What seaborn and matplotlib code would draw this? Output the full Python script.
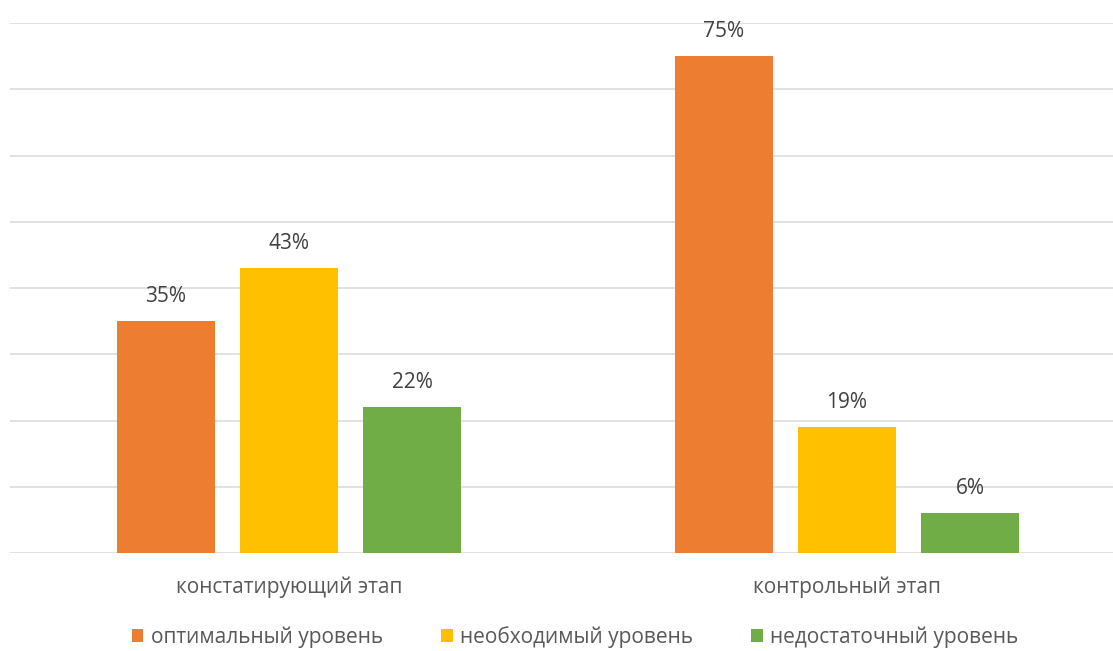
import matplotlib
matplotlib.use("Agg")
import matplotlib.pyplot as plt
from matplotlib.patches import Patch
import seaborn as sns
import pandas as pd

# Survey results by stage
stages = ["констатирующий этап", "контрольный этап"]
levels = ["оптимальный уровень", "необходимый уровень", "недостаточный уровень"]
optimal = [35, 75]
required = [43, 19]
insufficient = [22, 6]
colors = ["#ED7D31", "#FFC000", "#70AD47"]

rows = []
for i, st in enumerate(stages):
    for lv, vals in zip(levels, [optimal, required, insufficient]):
        rows.append({"stage": st, "level": lv, "value": vals[i]})
df = pd.DataFrame(rows)

sns.set_theme(style="white")
plt.rcParams["font.family"] = ["Open Sans", "DejaVu Sans"]

fig = plt.figure(figsize=(11.13, 6.51), dpi=100)
ax = fig.add_axes([10 / 1113, 98 / 651, 1116 / 1113, 530 / 651])

sns.barplot(data=df, x="stage", y="value", hue="level", hue_order=levels,
            palette=colors, width=0.661, gap=0.2, saturation=1,
            ax=ax, legend=False, linewidth=0, errorbar=None)

ax.set_ylim(0, 80)
ax.set_xlim(-0.5, 1.5)
ax.set_yticks(range(0, 81, 10))
ax.yaxis.grid(True, color="#D9D9D9", linewidth=1.1)
ax.set_axisbelow(True)
for s in ax.spines.values():
    s.set_visible(False)
ax.set_yticklabels([])
ax.tick_params(axis="y", length=0)
ax.tick_params(axis="x", length=0, pad=17, labelsize=15, labelcolor="#595959")
ax.set_xlabel("")
ax.set_ylabel("")

for cont in ax.containers:
    ax.bar_label(cont, labels=[f"{v:.0f}%" for v in cont.datavalues],
                 padding=10, fontsize=15, color="#404040")

handles = [Patch(facecolor=c, edgecolor="none") for c in colors]
fig.legend(handles, levels, loc="center", bbox_to_anchor=(575 / 1113, 1 - 637 / 651),
           ncol=3, frameon=False, fontsize=15, labelcolor="#595959",
           handlelength=0.55, handleheight=0.55, handletextpad=0.35, columnspacing=2.8)

fig.savefig("out.png", dpi=100)
